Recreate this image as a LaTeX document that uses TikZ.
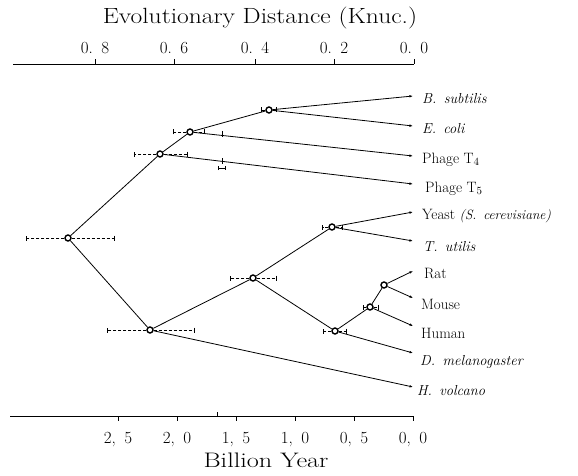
\documentclass[tikz,border=0pt]{standalone}
\usepackage{graphicx}
\usetikzlibrary{arrows.meta}
\newcommand{\topval}[2]{#1.\hspace{.5em}#2}
\newcommand{\botval}[2]{#1,\hspace{.5em}#2}
\newcommand{\wide}[2]{\scalebox{#1}[1]{#2}}
% error bar on both sides of a branch point
\newcommand{\errbar}[3]{%
  \draw[errbar] (#1.west) -- ([xshift=-#2pt]#1.center);
  \draw[errbar] (#1.east) -- ([xshift=#3pt]#1.center);}

\begin{document}
\begin{tikzpicture}[
  x=1pt, y=-1pt,
  brnode/.style  = {circle, draw, fill=white, line width=1.4pt,
                    inner sep=0pt, minimum size=6pt},
  branch/.style  = {line width=0.8pt},
  tipline/.style = {branch, -{Latex[length=3.5pt, width=2.6pt]}},
  errbar/.style  = {line width=0.9pt, dash pattern=on 3pt off 2pt,
                    -{Bar[width=5pt]}},
  taxon/.style   = {anchor=base west, inner sep=0pt,
                    font=\fontsize{15}{18}\selectfont},
  taxit/.style   = {anchor=base west, inner sep=0pt,
                    font=\fontsize{14.5}{18}\selectfont\itshape},
  ticklbl/.style = {anchor=base, inner sep=0pt,
                    font=\fontsize{17}{20}\selectfont},
  axtitle/.style = {anchor=base, inner sep=0pt,
                    font=\fontsize{22}{26}\selectfont},
  axline/.style  = {line width=0.8pt},
]
\useasboundingbox (0,0) rectangle (578,476);

% top axis
\node[axtitle] (dtitle) at (260,24) {\wide{1.16}{Evolutionary Distance (Knuc.)}};
\draw[axline] (13,64) -- (414,64);
\foreach \x/\v in {95/8, 174/6, 255/4, 334/2, 414/0} {
  \draw[axline] (\x,64) -- (\x,59);
  \node[ticklbl] (dtick\v) at (\x,54) {\topval{0}{\v}};
}

% branch points
\node[brnode] (root)  at (68,238)  {};
\node[brnode] (bact)  at (160,154) {};
\node[brnode] (phage) at (190,132) {};
\node[brnode] (bsec)  at (269,110) {};
\node[brnode] (arch)  at (150,330) {};
\node[brnode] (euk)   at (253,278) {};
\node[brnode] (yeast) at (332,227) {};
\node[brnode] (anim)  at (335,331) {};
\node[brnode] (mamm)  at (370,307) {};
\node[brnode] (rod)   at (384,285) {};

% tips
\coordinate (tBsub)  at (413,96);
\coordinate (tEcoli) at (413,126);
\coordinate (tTfour) at (413,156);
\coordinate (tTfive) at (413,184);
\coordinate (tYeast) at (413,212);
\coordinate (tTutil) at (413,241);
\coordinate (tRat)   at (413,271);
\coordinate (tMouse) at (413,298);
\coordinate (tHuman) at (413,326);
\coordinate (tDmel)  at (413,353);
\coordinate (tHvol)  at (413,387);

\node[taxit] (lBsub)  at (422,104) {B.\enspace subtilis};
\node[taxit] (lEcoli) at (422,133) {E.\enspace coli};
\node[taxon] (lTfour) at (422,163) {Phage T$_4$};
\node[taxon] (lTfive) at (425,192) {Phage T$_5$};
\node[taxon] (lYeast) at (422,219) {Yeast {\itshape\fontsize{13.5}{16}\selectfont(S.\enspace cerevisiane)}};
\node[taxit] (lTutil) at (423,251) {T.\enspace utilis};
\node[taxon] (lRat)   at (424,278) {Rat};
\node[taxon] (lMouse) at (421,309) {Mouse};
\node[taxon] (lHuman) at (421,338) {Human};
\node[taxit] (lDmel)  at (420,365) {D.\enspace melanogaster};
\node[taxit] (lHvol)  at (417,395) {H.\enspace volcano};

% branches
\draw[branch]  (root)  -- (bact);
\draw[branch]  (root)  -- (arch);
\draw[branch]  (bact)  -- (phage);
\draw[tipline] (bact)  -- (tTfive);
\draw[branch]  (phage) -- (bsec);
\draw[tipline] (phage) -- (tTfour);
\draw[tipline] (bsec)  -- (tBsub);
\draw[tipline] (bsec)  -- (tEcoli);
\draw[branch]  (arch)  -- (euk);
\draw[tipline] (arch)  -- (tHvol);
\draw[branch]  (euk)   -- (yeast);
\draw[branch]  (euk)   -- (anim);
\draw[tipline] (yeast) -- (tYeast);
\draw[tipline] (yeast) -- (tTutil);
\draw[branch]  (anim)  -- (mamm);
\draw[tipline] (anim)  -- (tDmel);
\draw[branch]  (mamm)  -- (rod);
\draw[tipline] (mamm)  -- (tHuman);
\draw[tipline] (rod)   -- (tRat);
\draw[tipline] (rod)   -- (tMouse);

% error bars
\errbar{root}{42}{47}
\errbar{bact}{26}{28}
\errbar{phage}{17}{15}
\errbar{bsec}{8}{8}
\errbar{arch}{43}{45}
\errbar{euk}{23}{24}
\errbar{yeast}{10}{11}
\errbar{anim}{12}{12}
\errbar{mamm}{7}{9}
\draw[axline] (222,131) -- (222,137);
\draw[axline] (222,158) -- (222,164);
\draw[axline, {Bar[width=4pt]}-{Bar[width=4pt]}] (218,168) -- (226,168);

% bottom axis
\draw[axline] (10,416) -- (413,416);
\draw[axline] (217,416) -- (217,412);
\foreach \x/\a/\b in {118/2/5, 177/2/0, 236/1/5, 295/1/0, 354/0/5, 413/0/0} {
  \draw[axline] (\x,416) -- (\x,421);
  \node[ticklbl] (ytick\a\b) at (\x,443) {\botval{\a}{\b}};
}
\node[axtitle, font=\fontsize{21}{25}\selectfont] (ytitle) at (266,467) {\wide{1.25}{Billion Year}};
\end{tikzpicture}
\end{document}
